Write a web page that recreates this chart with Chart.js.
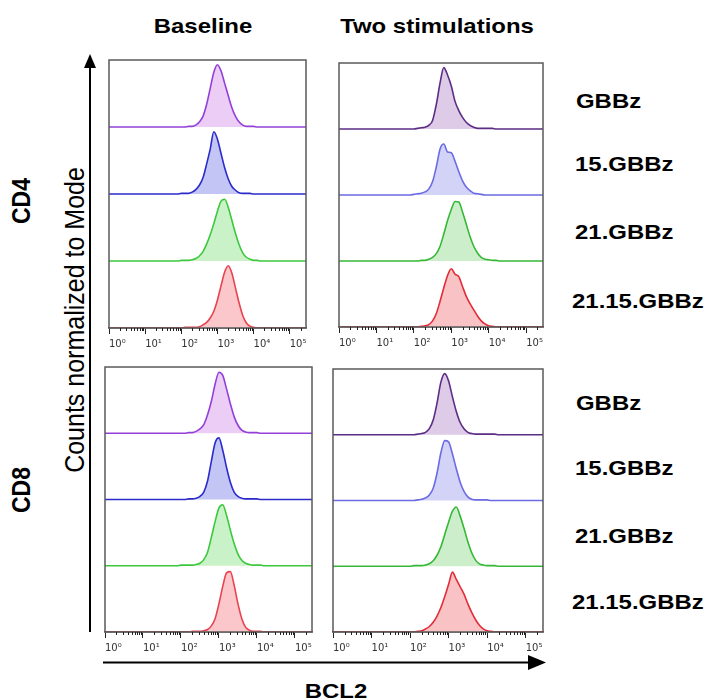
<!DOCTYPE html>
<html>
<head>
<meta charset="utf-8">
<script src="https://cdn.jsdelivr.net/npm/chart.js@4.4.1/dist/chart.umd.min.js"></script>
<style>
  body { margin: 0; background: #fff; }
  #fig { position: relative; width: 708px; height: 698px; overflow: hidden; font-family: "Liberation Sans", Arial, sans-serif; }
  canvas { position: absolute; }
  .lbl { position: absolute; white-space: nowrap; font-weight: bold; font-size: 21px; line-height: 21px; color: #000; }
</style>
</head>
<body>
<div id="fig">
  <svg width="708" height="698" style="position:absolute;left:0;top:0">
    <line x1="90" y1="632" x2="90" y2="66" stroke="#000" stroke-width="2"/>
    <polygon points="84,68 96,68 90,54" fill="#000"/>
    <line x1="103" y1="662.5" x2="530" y2="662.5" stroke="#000" stroke-width="2"/>
    <polygon points="528,655 528,670 546,662.5" fill="#000"/>
  </svg>
</div>
<script>
// log10 of BCL2 intensity at each bin centre
const bins = [1.9, 2.0, 2.1, 2.2, 2.3, 2.4, 2.5, 2.6, 2.7, 2.8, 2.9, 3.0, 3.1,
              3.2, 3.3, 3.4, 3.5, 3.6, 3.7, 3.8, 3.9, 4.0, 4.1, 4.2, 4.3, 4.4];
const rowNames = ["GBBz", "15.GBBz", "21.GBBz", "21.15.GBBz"];
const tickExps = [0, 1, 2, 3, 4, 5];
const tickLabels = ["10\u2070", "10\u00b9", "10\u00b2", "10\u00b3", "10\u2074", "10\u2075"];

// counts normalized to mode (%), CD4 baseline
const cd4BaseGBBz = [0,0,0,1,1,3,8,17,36,62,88,100,90,70,50,31,17,8,3,1,1,1,0,0,0,0];
const cd4Base15   = [0,1,1,1,3,7,14,26,48,72,100,88,65,42,24,12,6,2,1,1,1,0,0,0,0,0];
const cd4Base21   = [0,1,1,1,2,4,8,15,27,42,60,80,96,99,86,65,44,26,13,6,3,1,1,0,0,0];
const cd4Base2115 = [0,0,1,1,1,1,2,5,9,16,27,45,68,90,100,88,64,40,20,8,3,1,0,0,0,0];
// CD4 after two stimulations
const cd4StimGBBz = [0,0,1,2,3,6,14,40,75,100,88,70,45,30,19,11,6,3,1,1,1,1,1,0,0,0];
const cd4Stim15   = [0,1,2,3,5,10,22,46,75,83,70,69,55,38,23,13,7,3,2,1,0,0,0,0,0,0];
const cd4Stim21   = [0,0,0,1,1,3,6,12,24,44,66,84,97,96,80,60,40,24,13,6,3,2,1,1,0,0];
const cd4Stim2115 = [0,0,0,1,2,4,10,22,42,64,84,95,86,82,66,50,38,28,18,10,5,2,1,0,0,0];
// CD8 baseline
const cd8BaseGBBz = [0,0,0,1,1,3,7,14,30,52,80,99,94,72,48,27,13,5,2,1,1,1,0,0,0,0];
const cd8Base15   = [0,0,0,1,1,2,5,12,30,62,92,100,80,52,28,12,5,2,1,1,1,1,0,0,0,0];
const cd8Base21   = [0,1,1,1,1,2,4,10,22,46,72,94,99,82,58,36,19,9,4,2,1,1,1,0,0,0];
const cd8Base2115 = [0,0,0,0,1,1,1,2,4,10,22,46,74,96,98,76,46,22,8,3,1,1,1,0,0,0];
// CD8 after two stimulations
const cd8StimGBBz = [0,0,0,1,2,4,10,24,52,86,100,88,62,38,20,10,4,2,1,1,1,1,1,1,0,0];
const cd8Stim15   = [0,0,0,1,2,4,9,20,45,78,98,96,76,52,30,15,6,2,1,1,1,1,0,0,0,0];
const cd8Stim21   = [0,0,1,1,1,2,4,9,18,32,52,72,90,97,82,62,40,22,10,4,2,1,1,1,0,0];
const cd8Stim2115 = [0,0,0,1,2,5,9,16,26,40,58,78,98,86,74,62,46,32,20,11,5,2,1,0,0,0];

const baseLine = ["#9440d8", "#2b2bcc", "#3cc83c", "#e8434f"];
const baseFill = ["#ebcdf6", "#c3c6f4", "#caf2c8", "#fbc7ca"];
const stimLine = ["#5b2d84", "#6b6be4", "#35b835", "#e22c38"];
const stimFill = ["#ddcbe8", "#d3d3f7", "#cdeecb", "#f9c3c5"];

const X_MAX = 5.45;
const PEAK = 0.0093; // mode reaches ~93% of a row

const boxPlugin = {
    id: "box",
    afterDraw(chart) {
        const a = chart.chartArea;
        const c = chart.ctx;
        const xs = chart.scales.x;
        c.save();
        c.strokeStyle = "#5a5a5a";
        c.lineWidth = 1.5;
        c.strokeRect(a.left, a.top, a.right - a.left, a.bottom - a.top);
        // minor log ticks
        c.strokeStyle = "#222";
        c.lineWidth = 1;
        for (let d = 0; d <= 5; d++) {
            for (let k = 2; k <= 9; k++) {
                const v = d + Math.log10(k);
                if (v > X_MAX) break;
                const px = Math.round(xs.getPixelForValue(v)) + 0.5;
                c.beginPath();
                c.moveTo(px, a.bottom);
                c.lineTo(px, a.bottom + 3);
                c.stroke();
            }
        }
        c.restore();
    }
};

function makePanel(box, series, lines, fills) {
    const w = box.right - box.left, h = box.bottom - box.top;
    const cv = document.createElement("canvas");
    cv.width = w + 12;
    cv.height = h + 34;
    cv.style.left = (box.left - 6) + "px";
    cv.style.top = (box.top - 6) + "px";
    document.getElementById("fig").appendChild(cv);

    const datasets = series.map(function (vals, r) {
        const base = 3 - r;
        const pts = [{ x: 0, y: base }];
        bins.forEach(function (b, i) { pts.push({ x: b, y: base + vals[i] * PEAK }); });
        pts.push({ x: X_MAX, y: base });
        return {
            label: rowNames[r],
            data: pts,
            borderColor: lines[r],
            backgroundColor: fills[r],
            borderWidth: 1.6,
            fill: { value: base }
        };
    });

    new Chart(cv, {
        type: "line",
        data: { datasets: datasets },
        options: {
            responsive: false,
            animation: false,
            layout: { padding: { left: 6, right: 6, top: 6, bottom: 3 } },
            plugins: { legend: { display: false }, tooltip: { enabled: false } },
            elements: { point: { radius: 0 }, line: { cubicInterpolationMode: "monotone" } },
            scales: {
                x: {
                    type: "linear",
                    min: 0,
                    max: X_MAX,
                    afterBuildTicks: function (s) { s.ticks = tickExps.map(function (v) { return { value: v }; }); },
                    grid: { drawOnChartArea: false, tickLength: 6, tickColor: "#222", tickWidth: 1 },
                    border: { color: "#5a5a5a", width: 1.5 },
                    ticks: {
                        align: "start",
                        padding: 4,
                        color: "#333",
                        font: { size: 10, family: "DejaVu Sans" },
                        callback: function (v, i) { return tickLabels[i]; }
                    }
                },
                y: { type: "linear", min: 0, max: 4, display: false }
            }
        },
        plugins: [boxPlugin]
    });
}

makePanel({ left: 109, top: 60, right: 306, bottom: 329 },
    [cd4BaseGBBz, cd4Base15, cd4Base21, cd4Base2115], baseLine, baseFill);
makePanel({ left: 339, top: 63, right: 543, bottom: 328 },
    [cd4StimGBBz, cd4Stim15, cd4Stim21, cd4Stim2115], stimLine, stimFill);
makePanel({ left: 105, top: 367, right: 312, bottom: 633 },
    [cd8BaseGBBz, cd8Base15, cd8Base21, cd8Base2115], baseLine, baseFill);
makePanel({ left: 333, top: 369, right: 543, bottom: 633 },
    [cd8StimGBBz, cd8Stim15, cd8Stim21, cd8Stim2115], stimLine, stimFill);

// text labels
function label(text, x, y, opt) {
    opt = opt || {};
    const el = document.createElement("div");
    el.className = "lbl";
    el.textContent = text;
    el.style.left = x + "px";
    el.style.top = y + "px";
    if (opt.size) { el.style.fontSize = opt.size + "px"; el.style.lineHeight = opt.size + "px"; }
    if (opt.normal) el.style.fontWeight = "normal";
    if (opt.rotate) {
        el.style.transform = "translate(-50%,-50%) scaleX(1.12) rotate(-90deg)";
    } else if (opt.center) {
        el.style.transform = "translate(-50%,-50%) scaleX(1.14)";
    } else {
        el.style.transformOrigin = "left center";
        el.style.transform = "translateY(-50%) scaleX(1.14)";
    }
    document.getElementById("fig").appendChild(el);
}

label("Baseline", 203, 25, { center: true });
label("Two stimulations", 437, 25, { center: true });
label("BCL2", 336, 690, { center: true });
label("CD4", 22, 201, { rotate: true, size: 23 });
label("CD8", 22, 490, { rotate: true, size: 23 });
label("Counts normalized to Mode", 74, 320, { rotate: true, size: 25, normal: true });

const labelX = [576, 575, 575, 572];
const labelYTop = [100, 163, 231, 300];
const labelYBottom = [402, 467, 535, 601];
rowNames.forEach(function (n, i) {
    label(n, labelX[i], labelYTop[i]);
    label(n, labelX[i], labelYBottom[i]);
});
</script>
</body>
</html>
